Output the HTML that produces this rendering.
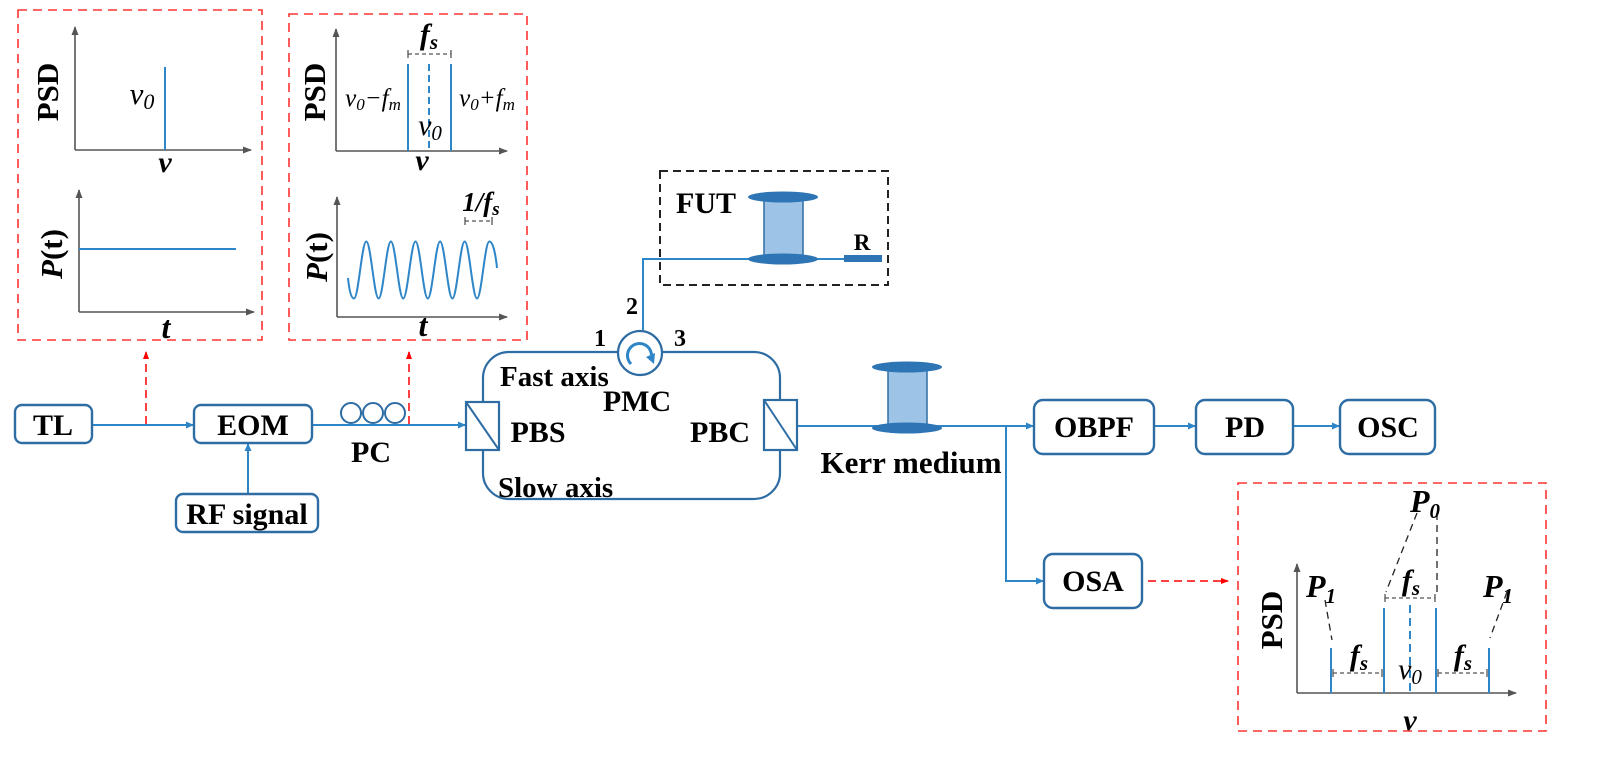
<!DOCTYPE html>
<html><head><meta charset="utf-8"><style>
html,body{margin:0;padding:0;background:#fff;}
svg{display:block;}
.b{font-family:"Liberation Serif",serif;font-weight:bold;fill:#000;}
.i{font-family:"Liberation Serif",serif;font-style:italic;font-weight:bold;fill:#000;}
.ii{font-family:"Liberation Serif",serif;font-style:italic;fill:#000;}
</style></head><body>
<svg width="1603" height="759" viewBox="0 0 1603 759" xmlns="http://www.w3.org/2000/svg">
<defs>
<marker id="ab" markerWidth="8" markerHeight="8" refX="7" refY="4" orient="auto" markerUnits="userSpaceOnUse"><path d="M0,0.5 L8,4 L0,7.5 Z" fill="#2e86c8"/></marker>
<marker id="ar" markerWidth="8" markerHeight="8" refX="7" refY="4" orient="auto" markerUnits="userSpaceOnUse"><path d="M0,1 L8,4 L0,7 Z" fill="#f00"/></marker>
<marker id="ag" markerWidth="9" markerHeight="9" refX="8" refY="4.5" orient="auto" markerUnits="userSpaceOnUse"><path d="M0,1 L9,4.5 L0,8 Z" fill="#555"/></marker>
</defs>

<g fill="none" stroke="#f33" stroke-width="1.6" stroke-dasharray="9,6">
<rect x="18" y="10" width="244" height="330"/>
<rect x="289" y="14" width="238" height="326"/>
<rect x="1238" y="483" width="308" height="248"/>
</g>

<!-- plot 1 -->
<g stroke="#555" stroke-width="1.6" fill="none">
<path d="M75,150 V27" marker-end="url(#ag)"/><path d="M75,150 H251" marker-end="url(#ag)"/>
<path d="M79,312 V190" marker-end="url(#ag)"/><path d="M79,312 H254" marker-end="url(#ag)"/>
</g>
<line x1="165" y1="67" x2="165" y2="150" stroke="#2e86c8" stroke-width="2"/>
<line x1="79" y1="249" x2="236" y2="249" stroke="#2e86c8" stroke-width="2"/>
<text class="b" font-size="31" transform="translate(58,92) rotate(-90)" text-anchor="middle">PSD</text>
<text class="ii" font-size="31" x="142" y="104" text-anchor="middle">v<tspan font-size="22" dy="5">0</tspan></text>
<text class="i" font-size="30" x="165" y="172" text-anchor="middle">v</text>
<text class="b" font-size="31" transform="translate(62,254) rotate(-90)" text-anchor="middle"><tspan font-style="italic">P</tspan>(t)</text>
<text class="i" font-size="32" x="166" y="338" text-anchor="middle">t</text>

<!-- plot 2 -->
<g stroke="#555" stroke-width="1.6" fill="none">
<path d="M336,151 V29" marker-end="url(#ag)"/><path d="M336,151 H507" marker-end="url(#ag)"/>
<path d="M337,317 V197" marker-end="url(#ag)"/><path d="M337,317 H507" marker-end="url(#ag)"/>
</g>
<line x1="408" y1="64" x2="408" y2="151" stroke="#2e86c8" stroke-width="2"/>
<line x1="451" y1="64" x2="451" y2="151" stroke="#2e86c8" stroke-width="2"/>
<line x1="429" y1="64" x2="429" y2="151" stroke="#2e86c8" stroke-width="2" stroke-dasharray="7,4"/>
<g stroke="#555" stroke-width="1.3" fill="none">
<line x1="408" y1="54" x2="451" y2="54" stroke-dasharray="4,3"/><line x1="408" y1="50" x2="408" y2="58"/><line x1="451" y1="50" x2="451" y2="58"/>
<line x1="465" y1="221" x2="492" y2="221" stroke-dasharray="4,3"/><line x1="465" y1="217" x2="465" y2="225"/><line x1="492" y1="217" x2="492" y2="225"/>
</g>
<text class="i" font-size="30" x="429" y="44" text-anchor="middle">f<tspan font-size="21" dy="5">s</tspan></text>
<text class="ii" font-size="25" x="373" y="106" text-anchor="middle">v<tspan font-size="17" dy="4">0</tspan><tspan dy="-4">−f</tspan><tspan font-size="17" dy="4">m</tspan></text>
<text class="ii" font-size="25" x="487" y="106" text-anchor="middle">v<tspan font-size="17" dy="4">0</tspan><tspan dy="-4">+f</tspan><tspan font-size="17" dy="4">m</tspan></text>
<text class="ii" font-size="30" x="430" y="135" text-anchor="middle">v<tspan font-size="21" dy="5">0</tspan></text>
<text class="i" font-size="30" x="422" y="170" text-anchor="middle">v</text>
<text class="b" font-size="31" transform="translate(325,92) rotate(-90)" text-anchor="middle">PSD</text>
<text class="b" font-size="31" transform="translate(327,257) rotate(-90)" text-anchor="middle"><tspan font-style="italic">P</tspan>(t)</text>
<text class="i" font-size="32" x="423" y="336" text-anchor="middle">t</text>
<text class="i" font-size="27" x="481" y="211" text-anchor="middle">1/f<tspan font-size="19" dy="4">s</tspan></text>
<path d="M348,278 Q350,298.5 354,298.5 C358.5,298.5 361.8,241.5 366.3,241.5 C370.8,241.5 374.1,298.5 378.6,298.5 C383.1,298.5 386.4,241.5 390.9,241.5 C395.4,241.5 398.7,298.5 403.2,298.5 C407.7,298.5 411,241.5 415.5,241.5 C420,241.5 423.3,298.5 427.8,298.5 C432.3,298.5 435.6,241.5 440.1,241.5 C444.6,241.5 447.9,298.5 452.4,298.5 C456.9,298.5 460.2,241.5 464.7,241.5 C469.2,241.5 472.5,298.5 477,298.5 C481.5,298.5 484.8,241.5 489.3,241.5 C493.5,241.5 496,258 497,268" fill="none" stroke="#2e86c8" stroke-width="2"/>

<g stroke="#f00" stroke-width="1.5" fill="none" stroke-dasharray="8,5">
<line x1="146" y1="424" x2="146" y2="352" marker-end="url(#ar)"/>
<line x1="409" y1="424" x2="409" y2="352" marker-end="url(#ar)"/>
<line x1="1148" y1="581" x2="1228" y2="581" marker-end="url(#ar)"/>
</g>

<g stroke="#2e86c8" stroke-width="2" fill="none">
<line x1="92" y1="425" x2="193" y2="425" marker-end="url(#ab)"/>
<line x1="248" y1="494" x2="248" y2="444" marker-end="url(#ab)"/>
<line x1="312" y1="425" x2="465" y2="425" marker-end="url(#ab)"/>
<line x1="797" y1="426" x2="1033" y2="426" marker-end="url(#ab)"/>
<path d="M1006,426 V581 H1043" marker-end="url(#ab)"/>
<line x1="1154" y1="426" x2="1195" y2="426" marker-end="url(#ab)"/>
<line x1="1293" y1="426" x2="1339" y2="426" marker-end="url(#ab)"/>
<path d="M643,330 V259 H845"/>
</g>
<g stroke="#2e6da4" stroke-width="2" fill="none">
<circle cx="351" cy="413" r="10"/><circle cx="373" cy="413" r="10"/><circle cx="395" cy="413" r="10"/>
</g>

<rect x="483" y="352" width="297" height="147" rx="26" fill="none" stroke="#2e6da4" stroke-width="2.2"/>
<rect x="466" y="402" width="33" height="48" fill="#fff" stroke="#2e6da4" stroke-width="2.2"/>
<line x1="466" y1="402" x2="499" y2="450" stroke="#2e6da4" stroke-width="2"/>
<rect x="764" y="400" width="33" height="50" fill="#fff" stroke="#2e6da4" stroke-width="2.2"/>
<line x1="764" y1="400" x2="797" y2="450" stroke="#2e6da4" stroke-width="2"/>
<circle cx="640" cy="353" r="22" fill="#fff" stroke="#2e6da4" stroke-width="2.2"/>
<path d="M631,364 A12,12 0 1 1 651,359" fill="none" stroke="#2e86c8" stroke-width="3"/>
<path d="M646,357 L654,364 L655,353 Z" fill="#2e86c8"/>

<rect x="660" y="171" width="228" height="114" fill="none" stroke="#222" stroke-width="2" stroke-dasharray="8,5"/>
<rect x="764" y="197" width="39" height="62" fill="#9dc3e6" stroke="#2e6da4" stroke-width="1.5"/>
<ellipse cx="783" cy="197" rx="35" ry="5.5" fill="#2e75b6"/>
<ellipse cx="783" cy="259" rx="35" ry="5.5" fill="#2e75b6"/>
<rect x="844" y="255" width="38" height="7" fill="#2e75b6"/>
<text class="b" font-size="30" x="706" y="213" text-anchor="middle">FUT</text>
<text class="b" font-size="23" x="862" y="250" text-anchor="middle">R</text>

<rect x="888" y="367" width="39" height="61" fill="#9dc3e6" stroke="#2e6da4" stroke-width="1.5"/>
<ellipse cx="907" cy="367" rx="35" ry="5.5" fill="#2e75b6"/>
<ellipse cx="907" cy="428" rx="35" ry="5.5" fill="#2e75b6"/>

<g fill="#fff" stroke="#2e6da4" stroke-width="2.4">
<rect x="15" y="405" width="77" height="38" rx="7"/>
<rect x="194" y="405" width="118" height="38" rx="7"/>
<rect x="176" y="494" width="142" height="38" rx="7"/>
<rect x="1034" y="400" width="120" height="54" rx="9"/>
<rect x="1196" y="400" width="97" height="54" rx="9"/>
<rect x="1340" y="400" width="95" height="54" rx="9"/>
<rect x="1044" y="554" width="98" height="54" rx="9"/>
</g>
<g class="b" font-size="30" text-anchor="middle">
<text x="53" y="435">TL</text>
<text x="253" y="435">EOM</text>
<text x="247" y="524">RF signal</text>
<text x="1094" y="437">OBPF</text>
<text x="1245" y="437">PD</text>
<text x="1388" y="437">OSC</text>
<text x="1093" y="591">OSA</text>
<text x="371" y="462">PC</text>
<text x="637" y="411">PMC</text>
<text x="911" y="473" font-size="31">Kerr medium</text>
<text x="720" y="442">PBC</text>
<text x="538" y="442">PBS</text>
</g>
<g class="b" font-size="29">
<text x="500" y="386">Fast axis</text>
<text x="498" y="497">Slow axis</text>
<text x="600" y="346" text-anchor="middle" font-size="24">1</text>
<text x="632" y="314" text-anchor="middle" font-size="24">2</text>
<text x="680" y="346" text-anchor="middle" font-size="24">3</text>
</g>

<!-- plot 3 -->
<g stroke="#555" stroke-width="1.6" fill="none">
<path d="M1297,693 V564" marker-end="url(#ag)"/><path d="M1297,693 H1516" marker-end="url(#ag)"/>
</g>
<g stroke="#2e86c8" stroke-width="2">
<line x1="1331" y1="648" x2="1331" y2="693"/>
<line x1="1384" y1="608" x2="1384" y2="693"/>
<line x1="1436" y1="608" x2="1436" y2="693"/>
<line x1="1489" y1="648" x2="1489" y2="693"/>
<line x1="1410" y1="605" x2="1410" y2="693" stroke-dasharray="8,5"/>
</g>
<g stroke="#555" stroke-width="1.3" fill="none">
<line x1="1385" y1="598" x2="1435" y2="598" stroke-dasharray="4,3"/><line x1="1385" y1="594" x2="1385" y2="602"/><line x1="1435" y1="594" x2="1435" y2="602"/>
<line x1="1333" y1="673" x2="1382" y2="673" stroke-dasharray="4,3"/><line x1="1333" y1="669" x2="1333" y2="677"/><line x1="1382" y1="669" x2="1382" y2="677"/>
<line x1="1438" y1="673" x2="1487" y2="673" stroke-dasharray="4,3"/><line x1="1438" y1="669" x2="1438" y2="677"/><line x1="1487" y1="669" x2="1487" y2="677"/>
</g>
<g stroke="#222" stroke-width="1.3" fill="none" stroke-dasharray="7,5">
<line x1="1325" y1="600" x2="1332" y2="640"/>
<line x1="1417" y1="513" x2="1386" y2="592"/>
<line x1="1437" y1="513" x2="1437" y2="592"/>
<line x1="1507" y1="592" x2="1490" y2="638"/>
</g>
<text class="b" font-size="31" transform="translate(1282,620) rotate(-90)" text-anchor="middle">PSD</text>
<text class="i" font-size="32" x="1321" y="597" text-anchor="middle">P<tspan font-size="21" dy="6">1</tspan></text>
<text class="i" font-size="32" x="1498" y="597" text-anchor="middle">P<tspan font-size="21" dy="6">1</tspan></text>
<text class="i" font-size="32" x="1425" y="512" text-anchor="middle">P<tspan font-size="21" dy="6">0</tspan></text>
<text class="i" font-size="30" x="1411" y="590" text-anchor="middle">f<tspan font-size="21" dy="5">s</tspan></text>
<text class="i" font-size="30" x="1359" y="665" text-anchor="middle">f<tspan font-size="21" dy="5">s</tspan></text>
<text class="i" font-size="30" x="1463" y="665" text-anchor="middle">f<tspan font-size="21" dy="5">s</tspan></text>
<text class="ii" font-size="30" x="1410" y="679" text-anchor="middle">v<tspan font-size="21" dy="5">0</tspan></text>
<text class="i" font-size="30" x="1410" y="730" text-anchor="middle">v</text>
</svg>
</body></html>
